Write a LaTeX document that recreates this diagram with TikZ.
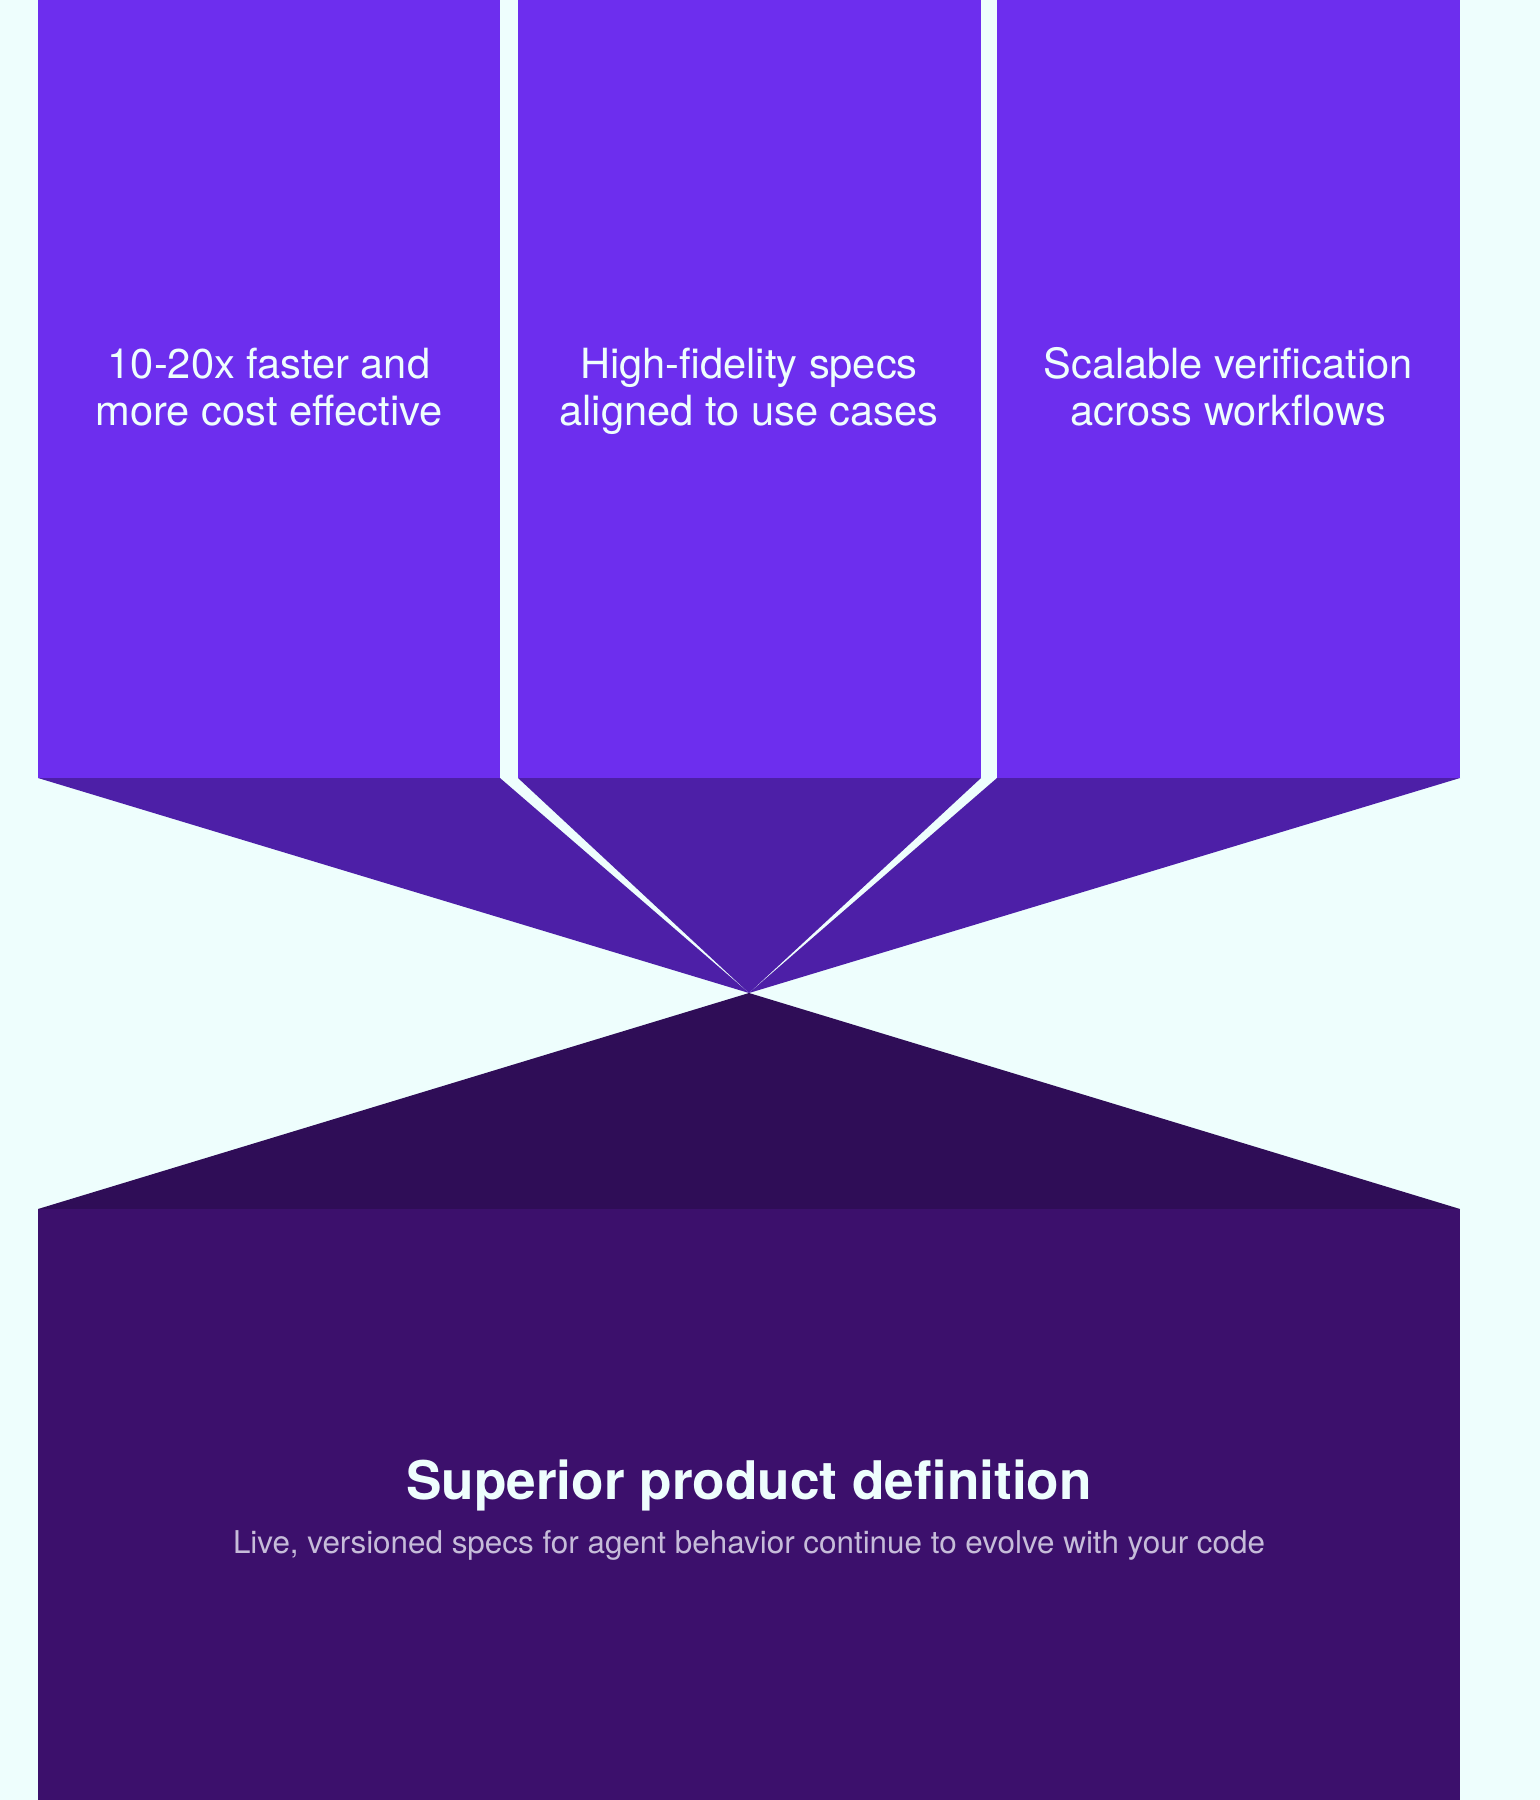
\documentclass[tikz,border=0pt]{standalone}
\usepackage{fontspec}
\setmainfont{TeX Gyre Heros}
\usetikzlibrary{positioning}

\definecolor{bg}{HTML}{EEFEFD}
\definecolor{pillar}{HTML}{6D2EEE}
\definecolor{funnel}{HTML}{4D1FA7}
\definecolor{cone}{HTML}{2F0D57}
\definecolor{base}{HTML}{3C106C}
\definecolor{subtext}{HTML}{C6BCD9}

\begin{document}
\begin{tikzpicture}[x=0.5pt, y=-0.5pt,
    pillartext/.style = {text=bg, align=center, inner sep=0pt,
                         font=\fontsize{20.8}{23.5}\selectfont},
    titletext/.style  = {text=bg, inner sep=0pt,
                         font=\fontsize{26.6}{32}\selectfont\bfseries},
    subtitletext/.style = {text=subtext, inner sep=0pt,
                         font=\fontsize{15.7}{18}\selectfont}]
\fill[bg] (0,0) rectangle (1540,1800);
\useasboundingbox (0,0) rectangle (1540,1800);

\coordinate (apex) at (749,993);

% three pillars
\fill[pillar] (38,0) rectangle (500,778);
\fill[pillar] (518,0) rectangle (981,778);
\fill[pillar] (997,0) rectangle (1460,778);

% funnel into the apex
\fill[funnel] (38,778) -- (500,778) -- (apex) -- cycle;
\fill[funnel] (518,778) -- (981,778) -- (apex) -- cycle;
\fill[funnel] (997,778) -- (1460,778) -- (apex) -- cycle;

% result block
\fill[cone] (38,1209) -- (apex) -- (1460,1209) -- cycle;
\fill[base] (38,1209) rectangle (1460,1800);

\node[pillartext] (fast) at (269,393) {\strut 10-20x faster and\\more cost effective\strut};
\node[pillartext] (specs) at (749,393) {\strut High-fidelity specs\\aligned to use cases\strut};
\node[pillartext] (verify) at (1228,393) {\strut Scalable verification\\across workflows\strut};

\node[titletext] (title) at (749,1485) {Superior product definition};
\node[subtitletext] (subtitle) at (749,1545) {Live, versioned specs for agent behavior continue to evolve with your code};
\end{tikzpicture}
\end{document}
